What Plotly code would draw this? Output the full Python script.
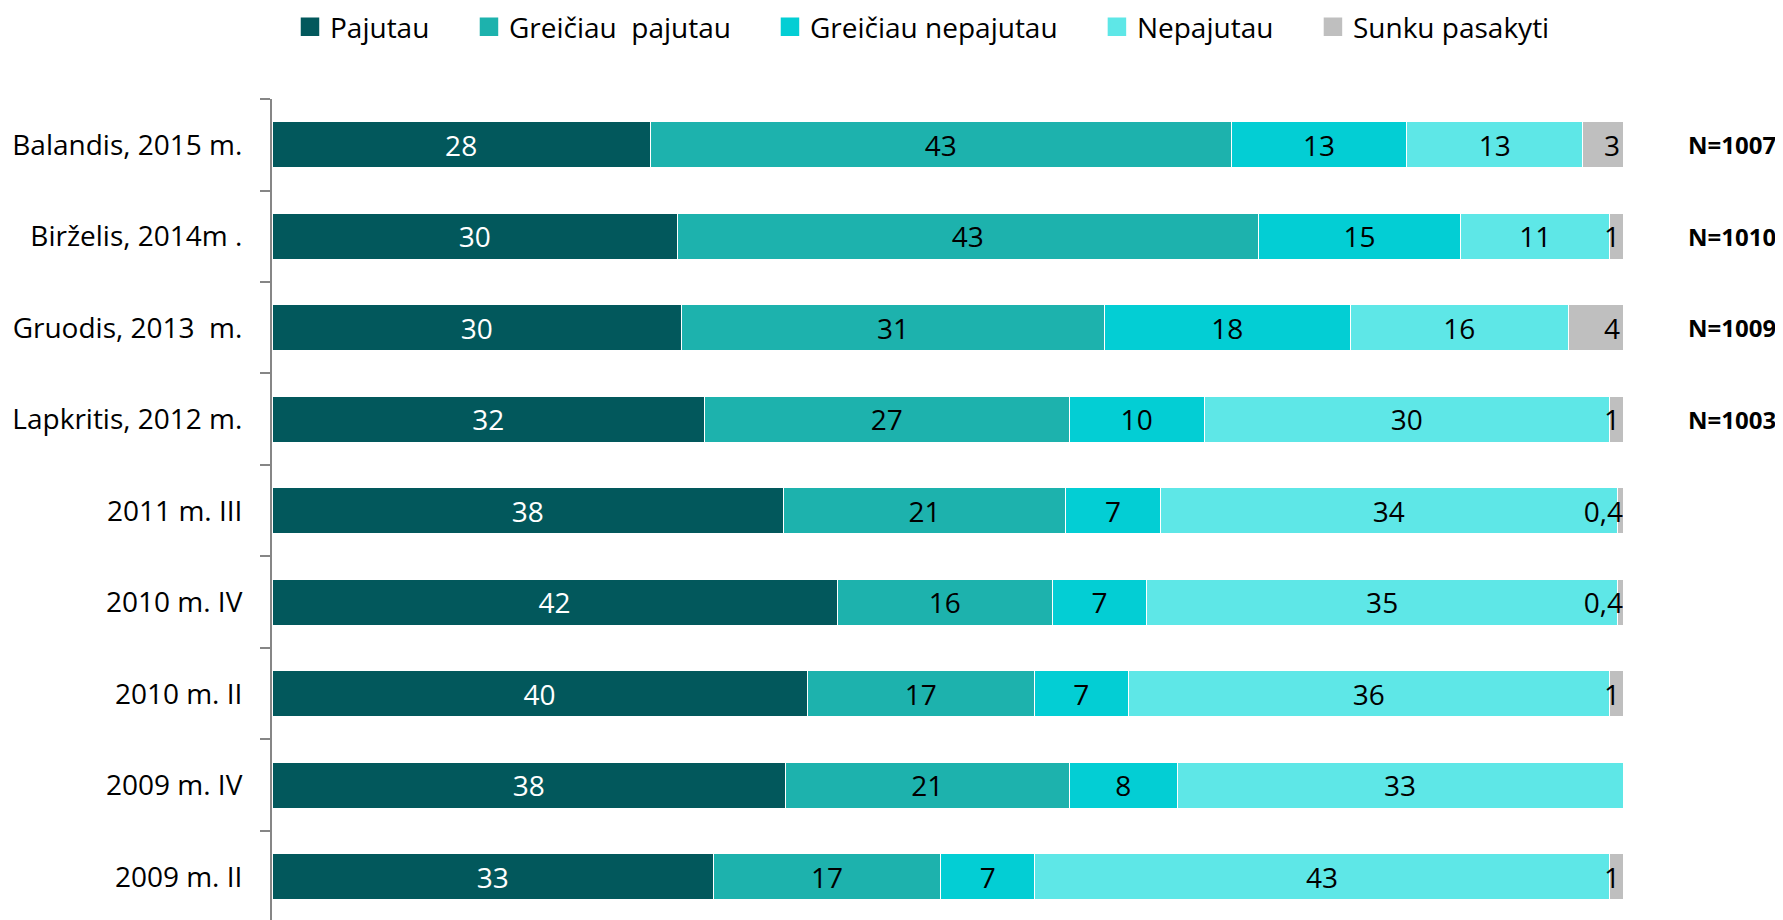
import plotly.graph_objects as go

categories = ["Balandis, 2015 m.", "Birželis, 2014m .", "Gruodis, 2013  m.", "Lapkritis, 2012 m.",
              "2011 m. III", "2010 m. IV", "2010 m. II", "2009 m. IV", "2009 m. II"]
pajutau = [28, 30, 30, 32, 38, 42, 40, 38, 33]
greiciau_pajutau = [43, 43, 31, 27, 21, 16, 17, 21, 17]
greiciau_nepajutau = [13, 15, 18, 10, 7, 7, 7, 8, 7]
nepajutau = [13, 11, 16, 30, 34, 35, 36, 33, 43]
sunku = [3, 1, 4, 1, 0.4, 0.4, 1, None, 1]
n_labels = ["N=1007", "N=1010", "N=1009", "N=1003", "", "", "", "", ""]

series = [
    ("Pajutau", pajutau, "#02585C", "white"),
    ("Greičiau  pajutau", greiciau_pajutau, "#1DB2AD", "black"),
    ("Greičiau nepajutau", greiciau_nepajutau, "#03CED4", "black"),
    ("Nepajutau", nepajutau, "#5EE7E7", "black"),
    ("Sunku pasakyti", sunku, "#BFBFBF", "black"),
]


def fmt(v):
    if v is None:
        return ""
    return ("%g" % v).replace(".", ",")


FONT = "Open Sans"
FS = 28
fig = go.Figure()
legend_x = [0.01332, 0.1458, 0.3686, 0.6106, 0.7705]
for i, (name, vals, color, tcol) in enumerate(series):
    fig.add_trace(go.Bar(
        y=categories, x=vals, orientation="h", name=name,
        marker=dict(color=color, line=dict(color="white", width=1)),
        text=[fmt(v) for v in vals], textposition="inside",
        insidetextanchor="end" if name == "Sunku pasakyti" else "middle",
        textangle=0, constraintext="none",
        textfont=dict(color=tcol, size=FS, family=FONT),
        showlegend=False, hoverinfo="skip",
    ))
    lg = "legend" if i == 0 else "legend%d" % (i + 1)
    fig.add_trace(go.Scatter(
        x=[None], y=[None], mode="markers", name=name,
        marker=dict(symbol="square", size=16, color=color, line=dict(color=color, width=2.5)),
        legend=lg, showlegend=True,
    ))

layout_legends = {}
for i, lx in enumerate(legend_x):
    key = "legend" if i == 0 else "legend%d" % (i + 1)
    layout_legends[key] = dict(
        x=lx, xref="paper", y=0.9790, yref="container", xanchor="left", yanchor="middle",
        orientation="h",
        font=dict(size=FS, family=FONT, color="black"), bgcolor="rgba(0,0,0,0)",
        borderwidth=0,
    )

for cat, nl in zip(categories, n_labels):
    if nl:
        fig.add_annotation(x=1.0807, xref="paper", y=cat, yref="y", text="<b>%s</b>" % nl,
                           showarrow=False, xanchor="center", yanchor="middle",
                           font=dict(size=24, family=FONT, color="black"))

fig.update_layout(
    width=1775, height=912,
    margin=dict(l=264, r=160, t=91, b=0, autoexpand=False),
    barmode="stack", barnorm="percent", bargap=0.5,
    plot_bgcolor="white", paper_bgcolor="white",
    uniformtext=dict(minsize=FS, mode="show"),
    font=dict(family=FONT, size=FS, color="black"),
    xaxis=dict(visible=False, range=[0, 100], fixedrange=True),
    yaxis=dict(range=[8.473, -0.5], showline=True, linecolor="#868686", linewidth=2,
               ticks="outside", ticklen=10, tickcolor="#868686", tickwidth=2,
               tickson="boundaries", showgrid=False, ticklabelstandoff=22,
               tickfont=dict(size=FS, family=FONT, color="black")),
    **layout_legends,
)

fig.write_html("out.html")
